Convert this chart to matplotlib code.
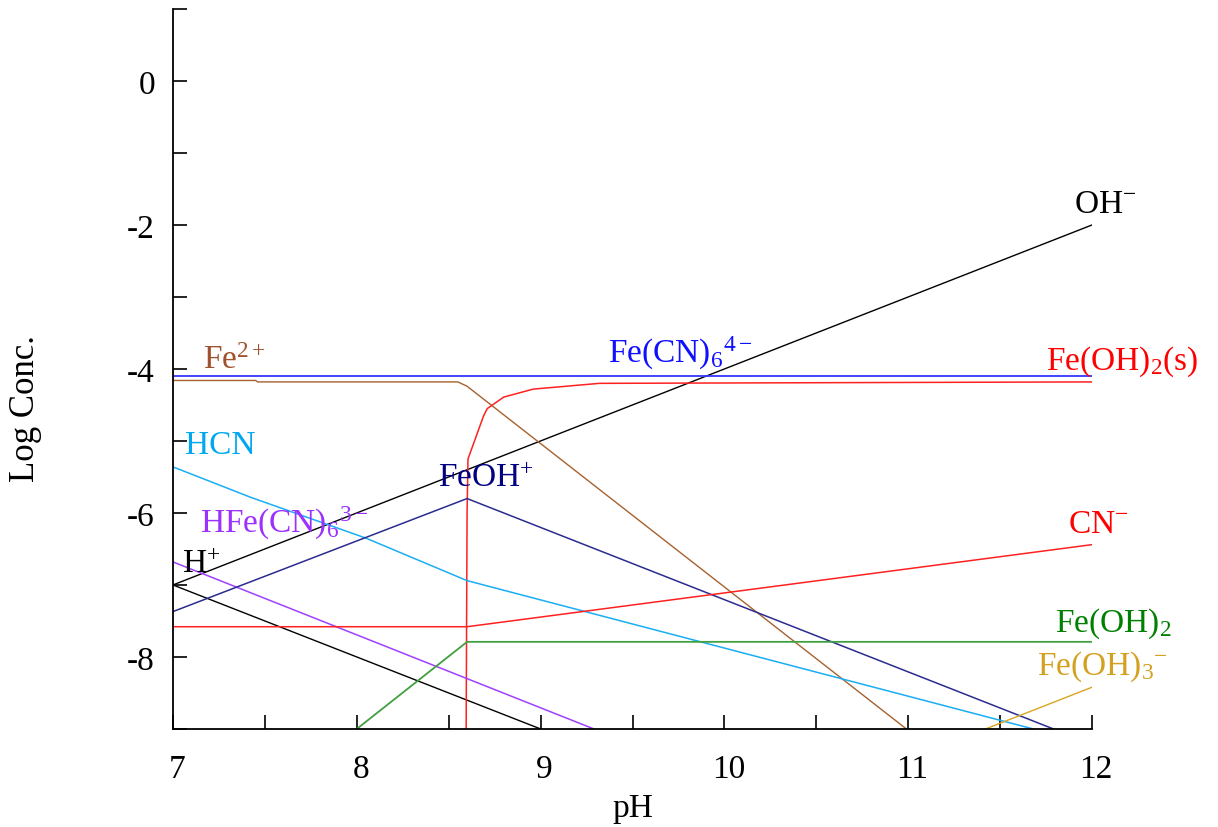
import matplotlib
matplotlib.use("Agg")
import matplotlib.pyplot as plt
from matplotlib.transforms import ScaledTranslation

plt.rcParams['font.family'] = ['Liberation Serif', 'DejaVu Serif']
plt.rcParams['mathtext.fontset'] = 'custom'
plt.rcParams['mathtext.rm'] = 'Liberation Serif'
plt.rcParams['mathtext.it'] = 'Liberation Serif'
plt.rcParams['mathtext.bf'] = 'Liberation Serif'

# species curves: pH values and log concentrations
oh_ph = [7, 12]
oh_c = [-7, -2]
h_ph = [7, 9]
h_c = [-7, -9]
fecn6_ph = [7, 12]
fecn6_c = [-4.10, -4.10]
fe2_ph = [7, 7.45, 7.46, 8.55, 8.6, 10.99]
fe2_c = [-4.16, -4.16, -4.18, -4.18, -4.24, -9.0]
feoh2s_ph = [8.595, 8.60, 8.605, 8.69, 8.71, 8.80, 8.96, 9.32, 12]
feoh2s_c = [-9.0, -6.0, -5.25, -4.65, -4.55, -4.39, -4.28, -4.20, -4.18]
hcn_ph = [7, 7.42, 8.05, 8.6, 11.68]
hcn_c = [-5.36, -5.78, -6.35, -6.94, -9.0]
hfecn6_ph = [7, 9.29]
hfecn6_c = [-6.68, -9.0]
feoh_ph = [7, 8.6, 11.79]
feoh_c = [-7.37, -5.8, -9.0]
cn_ph = [7, 8.6, 12]
cn_c = [-7.58, -7.58, -6.44]
feoh2_ph = [8.0, 8.6, 12]
feoh2_c = [-9.0, -7.79, -7.79]
feoh3_ph = [11.42, 12]
feoh3_c = [-9.0, -8.42]

x_ticks = [7, 7.5, 8, 8.5, 9, 9.5, 10, 10.5, 11, 11.5, 12]
x_labels = ['7', '', '8', '', '9', '', '10', '', '11', '', '12']
y_ticks = list(range(-9, 2))
y_labels = ['' if v % 2 else str(v) for v in y_ticks]

fig = plt.figure(figsize=(12.18, 8.28), dpi=100)
ax = fig.add_axes([0.142, 0.1184, 0.7546, 0.8696])

ax.plot(oh_ph, oh_c, color='black', lw=1.0)
ax.plot(h_ph, h_c, color='black', lw=1.0)
ax.plot(fecn6_ph, fecn6_c, color='#3535FF', lw=1.3)
ax.plot(fe2_ph, fe2_c, color='#A8612D', lw=1.0)
ax.plot(feoh2s_ph, feoh2s_c, color='#FF2020', lw=1.1)
ax.plot(hcn_ph, hcn_c, color='#1AAEF5', lw=1.1)
ax.plot(hfecn6_ph, hfecn6_c, color='#A040FF', lw=1.1)
ax.plot(feoh_ph, feoh_c, color='#2B2B90', lw=1.1)
ax.plot(cn_ph, cn_c, color='#FF2020', lw=1.1)
ax.plot(feoh2_ph, feoh2_c, color='#40A040', lw=1.3)
ax.plot(feoh3_ph, feoh3_c, color='#DAA520', lw=1.0)

lab = dict(fontsize=24, ha='left', va='baseline')
ax.text(11.90, -1.82, r'OH$^{-}$', color='black', **lab)
ax.text(9.367, -3.90, r'Fe(CN)$_{6}{}^{4-}$', color='#1010FF', **lab)
ax.text(11.75, -4.00, r'Fe(OH)$_{2}$(s)', color='#FF0000', **lab)
ax.text(7.163, -3.99, r'Fe$^{2+}$', color='#A0522D', **lab)
ax.text(7.065, -5.17, 'HCN', color='#00A8F0', **lab)
ax.text(8.44, -5.625, r'FeOH$^{+}$', color='#000080', **lab)
ax.text(7.147, -6.26, r'HFe(CN)$_{6}{}^{3-}$', color='#9B30FF', **lab)
ax.text(7.049, -6.82, r'H$^{+}$', color='black', **lab)
ax.text(11.87, -6.26, r'CN$^{-}$', color='#FF0000', **lab)
ax.text(11.80, -7.64, r'Fe(OH)$_{2}$', color='#008000', **lab)
ax.text(11.70, -8.24, r'Fe(OH)$_{3}{}^{-}$', color='#D4A020', **lab)

ax.set_xlim(7, 12)
ax.set_ylim(-9, 1)
ax.set_xticks(x_ticks)
ax.set_xticklabels(x_labels)
ax.set_yticks(y_ticks)
ax.set_yticklabels(y_labels)
ax.tick_params(direction='in', length=10, width=1.2, labelsize=24, colors='black')
ax.tick_params(axis='x', pad=18)
ax.tick_params(axis='y', pad=13)

# x tick labels sit a few pixels right of their ticks in the original
shift = ScaledTranslation(4 / 100, 0, fig.dpi_scale_trans)
for t in ax.get_xticklabels():
    t.set_transform(t.get_transform() + shift)

for side in ['top', 'right']:
    ax.spines[side].set_visible(False)
for side in ['left', 'bottom']:
    ax.spines[side].set_linewidth(1.3)

ax.set_xlabel('pH', fontsize=24, labelpad=6)
ax.set_ylabel('Log Conc.', fontsize=25)
ax.yaxis.set_label_coords(-0.143, 0.446)

fig.savefig('out.png', dpi=100)
